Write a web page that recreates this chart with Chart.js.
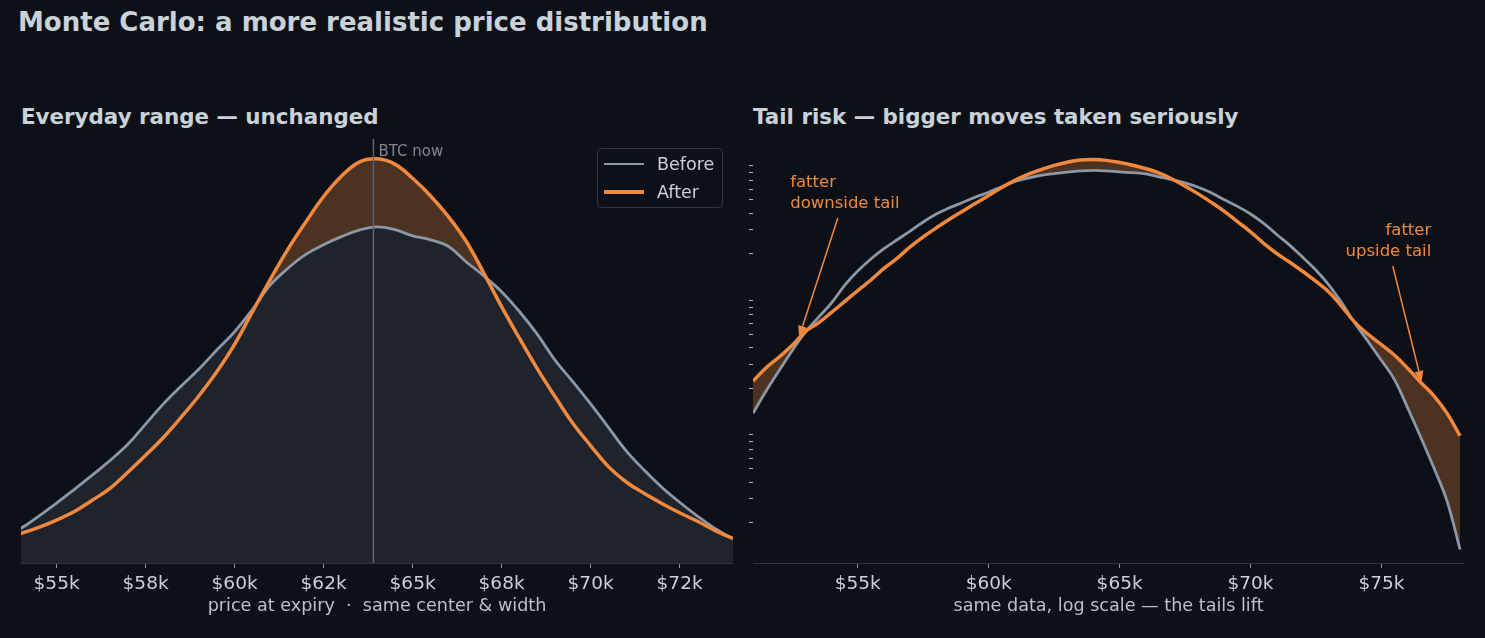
<!DOCTYPE html>
<html>
<head>
<meta charset="utf-8">
<title>Monte Carlo: a more realistic price distribution</title>
<script src="https://cdn.jsdelivr.net/npm/chart.js@4.4.1/dist/chart.umd.min.js"></script>
<style>
    body {
        margin: 0;
        width: 1485px;
        height: 638px;
        overflow: hidden;
        position: relative;
        background: #0d1117;
        color: #c9d1d9;
        font-family: "DejaVu Sans", sans-serif;
    }
    .title {
        position: absolute;
        left: 18px;
        top: 9px;
        font-size: 26px;
        line-height: 26px;
        font-weight: bold;
        white-space: nowrap;
    }
    .subtitle {
        position: absolute;
        top: 106px;
        font-size: 21.4px;
        line-height: 21px;
        font-weight: bold;
        white-space: nowrap;
    }
    canvas {
        position: absolute;
    }
    #legend {
        position: absolute;
        left: 597px;
        top: 148px;
        width: 124px;
        height: 58px;
        border: 1px solid #30363d;
        border-radius: 4px;
        background: rgba(13, 17, 23, 0.85);
        font-size: 17.5px;
    }
    #legend .item {
        position: absolute;
        left: 0;
        height: 20px;
        line-height: 20px;
    }
    #legend .swatch {
        position: absolute;
        left: 6px;
        width: 40px;
    }
    #legend .label {
        position: absolute;
        left: 59px;
        top: 0;
    }
</style>
</head>
<body>
<div class="title">Monte Carlo: a more realistic price distribution</div>
<div class="subtitle" style="left:21px">Everyday range — unchanged</div>
<div class="subtitle" style="left:753px">Tail risk — bigger moves taken seriously</div>

<canvas id="linearChart" width="712" height="478" style="left:21px; top:139px; width:712px; height:478px"></canvas>
<canvas id="logChart" width="715" height="478" style="left:749px; top:139px; width:715px; height:478px"></canvas>
<div id="legend"></div>

<script>
// price at expiry, in $k
const priceK = [
    51, 51.5, 52, 52.5, 53, 53.5, 54, 54.5, 55, 55.5,
    56, 56.5, 57, 57.5, 58, 58.5, 59, 59.5, 60, 60.5,
    61, 61.5, 62, 62.5, 63, 63.5, 64, 64.5, 65, 65.5,
    66, 66.5, 67, 67.5, 68, 68.5, 69, 69.5, 70, 70.5,
    71, 71.5, 72, 72.5, 73, 73.5, 74, 74.5, 75, 75.5,
    76, 76.5, 77, 77.5, 78,
];

// relative density, old model
const before = [
    0.013, 0.019, 0.027, 0.038, 0.052, 0.067, 0.086, 0.116, 0.148, 0.182,
    0.217, 0.253, 0.293, 0.343, 0.393, 0.437, 0.479, 0.526, 0.571, 0.626,
    0.686, 0.728, 0.762, 0.786, 0.806, 0.822, 0.830, 0.823, 0.808, 0.798,
    0.782, 0.744, 0.709, 0.670, 0.621, 0.565, 0.501, 0.448, 0.393, 0.335,
    0.277, 0.230, 0.187, 0.150, 0.116, 0.085, 0.060, 0.044, 0.032, 0.023,
    0.0142, 0.0086, 0.0051, 0.0029, 0.00126,
];

// relative density, fat-tailed model
const after = [
    0.0225, 0.0283, 0.034, 0.0415, 0.0525, 0.061, 0.073, 0.088, 0.106, 0.127,
    0.155, 0.184, 0.224, 0.266, 0.310, 0.360, 0.413, 0.472, 0.540, 0.620,
    0.700, 0.775, 0.842, 0.905, 0.955, 0.990, 0.998, 0.985, 0.950, 0.907,
    0.856, 0.795, 0.716, 0.633, 0.555, 0.480, 0.411, 0.345, 0.290, 0.238,
    0.200, 0.172, 0.147, 0.124, 0.103, 0.080, 0.061, 0.050, 0.042, 0.035,
    0.028, 0.022, 0.0175, 0.0130, 0.0088,
];

const btcNowK = 63.9;

const linearTicks = [55, 57.5, 60, 62.5, 65, 67.5, 70, 72.5];
const linearTickLabels = ["$55k", "$58k", "$60k", "$62k", "$65k", "$68k", "$70k", "$72k"];
const logXTicks = [55, 60, 65, 70, 75];
const logXTickLabels = ["$55k", "$60k", "$65k", "$70k", "$75k"];
const logYMinorTicks = [
    0.002, 0.003, 0.004, 0.005, 0.006, 0.007, 0.008, 0.009,
    0.02, 0.03, 0.04, 0.05, 0.06, 0.07, 0.08, 0.09,
    0.2, 0.3, 0.4, 0.5, 0.6, 0.7, 0.8, 0.9,
];

const annotations = [
    { lines: ["fatter", "downside tail"], align: "left", text: [52.42, 0.62], from: [54.24, 0.367], to: [52.76, 0.048] },
    { lines: ["fatter", "upside tail"], align: "right", text: [76.9, 0.275], from: [75.43, 0.161], to: [76.53, 0.0222] },
];

const GRAY = "#8b98a8";
const ORANGE = "#f0883e";
const GRAY_FILL = "#1f232b";
const BROWN = "rgba(240, 136, 62, 0.28)";
const FONT = "'DejaVu Sans', sans-serif";

const toPoints = (values) => priceK.map((p, i) => ({ x: p, y: values[i] }));

function makeDatasets(withBaseFill) {
    return [
        {
            label: "Before",
            data: toPoints(before),
            borderColor: GRAY,
            borderWidth: 2.8,
            backgroundColor: GRAY_FILL,
            fill: withBaseFill ? "origin" : false,
            pointRadius: 0,
            tension: 0.4,
            order: 2,
        },
        {
            label: "After",
            data: toPoints(after),
            borderColor: ORANGE,
            borderWidth: 3.5,
            fill: { target: 0, above: BROWN, below: "transparent" },
            pointRadius: 0,
            tension: 0.4,
            order: 1,
        },
    ];
}

function xAxis(min, max, tickValues, tickLabels, titleText) {
    return {
        type: "linear",
        min: min,
        max: max,
        afterBuildTicks: (axis) => {
            axis.ticks = tickValues.map((v) => ({ value: v }));
        },
        afterFit: (axis) => {
            axis.height = 54;
        },
        ticks: {
            autoSkip: false,
            maxRotation: 0,
            padding: 5,
            color: "#c9d1d9",
            font: { family: FONT, size: 18.5 },
            callback: (value, index) => tickLabels[index],
        },
        grid: {
            drawOnChartArea: false,
            drawTicks: true,
            tickLength: 5,
            tickColor: "#8b949e",
        },
        border: { color: "#30363d", width: 1 },
        title: {
            display: true,
            text: titleText,
            color: "#b8c0c9",
            font: { family: FONT, size: 17.6 },
            padding: 0,
        },
    };
}

const btcNowLine = {
    id: "btcNowLine",
    afterDatasetsDraw(chart) {
        const { ctx, chartArea } = chart;
        const x = chart.scales.x.getPixelForValue(btcNowK);
        ctx.save();
        ctx.strokeStyle = "#5c6370";
        ctx.lineWidth = 1.5;
        ctx.beginPath();
        ctx.moveTo(x, chartArea.top);
        ctx.lineTo(x, chartArea.bottom);
        ctx.stroke();
        ctx.fillStyle = "#7d8590";
        ctx.font = "15px " + FONT;
        ctx.textBaseline = "alphabetic";
        ctx.fillText("BTC now", x + 5, chartArea.top + 17);
        ctx.restore();
    },
};

const tailNotes = {
    id: "tailNotes",
    afterDatasetsDraw(chart) {
        const { ctx } = chart;
        const xs = chart.scales.x;
        const ys = chart.scales.y;
        ctx.save();
        ctx.fillStyle = ORANGE;
        ctx.strokeStyle = ORANGE;
        ctx.font = "16.5px " + FONT;
        annotations.forEach((a) => {
            const tx = xs.getPixelForValue(a.text[0]);
            const ty = ys.getPixelForValue(a.text[1]);
            ctx.textAlign = a.align;
            ctx.textBaseline = "alphabetic";
            a.lines.forEach((line, i) => ctx.fillText(line, tx, ty + i * 21));

            const x0 = xs.getPixelForValue(a.from[0]);
            const y0 = ys.getPixelForValue(a.from[1]);
            const x1 = xs.getPixelForValue(a.to[0]);
            const y1 = ys.getPixelForValue(a.to[1]);
            const ang = Math.atan2(y1 - y0, x1 - x0);
            const headLen = 11;
            const headW = 4.5;
            const bx = x1 - headLen * Math.cos(ang);
            const by = y1 - headLen * Math.sin(ang);
            ctx.lineWidth = 1.5;
            ctx.beginPath();
            ctx.moveTo(x0, y0);
            ctx.lineTo(bx, by);
            ctx.stroke();
            ctx.beginPath();
            ctx.moveTo(x1, y1);
            ctx.lineTo(bx + headW * Math.sin(ang), by - headW * Math.cos(ang));
            ctx.lineTo(bx - headW * Math.sin(ang), by + headW * Math.cos(ang));
            ctx.closePath();
            ctx.fill();
        });
        ctx.restore();
    },
};

const commonPlugins = {
    legend: { display: false },
    tooltip: { enabled: false },
    filler: { propagate: false, drawTime: "beforeDatasetsDraw" },
};

const linearChart = new Chart(document.getElementById("linearChart"), {
    type: "line",
    data: { datasets: makeDatasets(true) },
    options: {
        responsive: false,
        animation: false,
        layout: { padding: 0 },
        plugins: commonPlugins,
        scales: {
            x: xAxis(54, 74, linearTicks, linearTickLabels, "price at expiry  ·  same center & width"),
            y: { display: false, min: 0, max: 1.047 },
        },
    },
    plugins: [btcNowLine],
});

new Chart(document.getElementById("logChart"), {
    type: "line",
    data: { datasets: makeDatasets(false) },
    options: {
        responsive: false,
        animation: false,
        layout: { padding: 0 },
        plugins: commonPlugins,
        scales: {
            x: xAxis(51, 78.15, logXTicks, logXTickLabels, "same data, log scale — the tails lift"),
            y: {
                type: "logarithmic",
                min: 0.001,
                max: 1.42,
                afterBuildTicks: (axis) => {
                    axis.ticks = logYMinorTicks.map((v) => ({ value: v }));
                },
                afterFit: (axis) => {
                    axis.width = 4;
                },
                ticks: { display: false },
                grid: {
                    drawOnChartArea: false,
                    drawTicks: true,
                    tickLength: 4,
                    tickColor: "#aab2bc",
                },
                border: { display: false },
            },
        },
    },
    plugins: [tailNotes],
});

// legend built from the left chart's datasets
const legendEl = document.getElementById("legend");
linearChart.data.datasets.forEach((ds, i) => {
    const item = document.createElement("div");
    item.className = "item";
    item.style.top = 5 + i * 28 + "px";
    item.style.width = "100%";
    const sw = document.createElement("div");
    sw.className = "swatch";
    sw.style.background = ds.borderColor;
    sw.style.height = ds.borderWidth + "px";
    sw.style.top = 10 - ds.borderWidth / 2 + "px";
    const lab = document.createElement("div");
    lab.className = "label";
    lab.textContent = ds.label;
    item.appendChild(sw);
    item.appendChild(lab);
    legendEl.appendChild(item);
});
</script>
</body>
</html>
